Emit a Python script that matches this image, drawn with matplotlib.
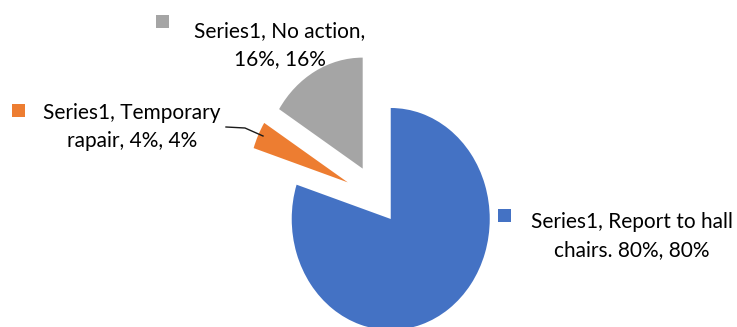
import matplotlib
matplotlib.use("Agg")
import matplotlib.pyplot as plt

# Data
categories = ["Report to hall chairs.", "Temporary rapair", "No action"]
values = [80, 4, 16]
colors = ["#4472C4", "#ED7D31", "#A5A5A5"]
label_texts = [
    "Series1, Report to hall\nchairs. 80%, 80%",
    "Series1, Temporary\nrapair, 4%, 4%",
    "Series1, No action,\n16%, 16%",
]

W, H = 737, 327
fig = plt.figure(figsize=(W / 100, H / 100), dpi=100)

# pie axes: radius 1 mapped to 99 px horizontally, 111 px vertically
cx, cy, rx, ry = 377.0, 197.8, 99.0, 111.0
ax = fig.add_axes([0, 0, 1, 1])
ax.pie(values, colors=colors, startangle=90, counterclock=False,
       explode=[0.236, 0.326, 0.30], radius=1.0,
       wedgeprops=dict(linewidth=0))
ax.set_aspect("auto")
ax.set_xlim((0 - cx) / rx, (W - cx) / rx)
ax.set_ylim((cy - H) / ry, cy / ry)
ax.axis("off")

# overlay axes in pixel coordinates for labels
ax2 = fig.add_axes([0, 0, 1, 1])
ax2.set_xlim(0, W)
ax2.set_ylim(H, 0)
ax2.axis("off")
ax2.patch.set_alpha(0)

font = dict(family=["Lato", "DejaVu Sans"], fontsize=15, color="#000000")

# label positions (pixels): text center x, block center y, marker center
label_pos = [
    (632, 236, (505, 215)),
    (132, 127, (19, 110)),
    (280, 45, (163, 21)),
]
for txt, (tx, ty, (mx, my)), col in zip(label_texts, label_pos, colors):
    ax2.text(tx, ty, txt, ha="center", va="center", linespacing=1.45, **font)
    ax2.add_patch(plt.Rectangle((mx - 6.5, my - 6.5), 13, 13, color=col, lw=0))

# leader line for the small slice
ax2.plot([226, 245, 263], [127, 128, 136], color="#1a1a1a", lw=1.0)

fig.savefig("out.png", dpi=100)
